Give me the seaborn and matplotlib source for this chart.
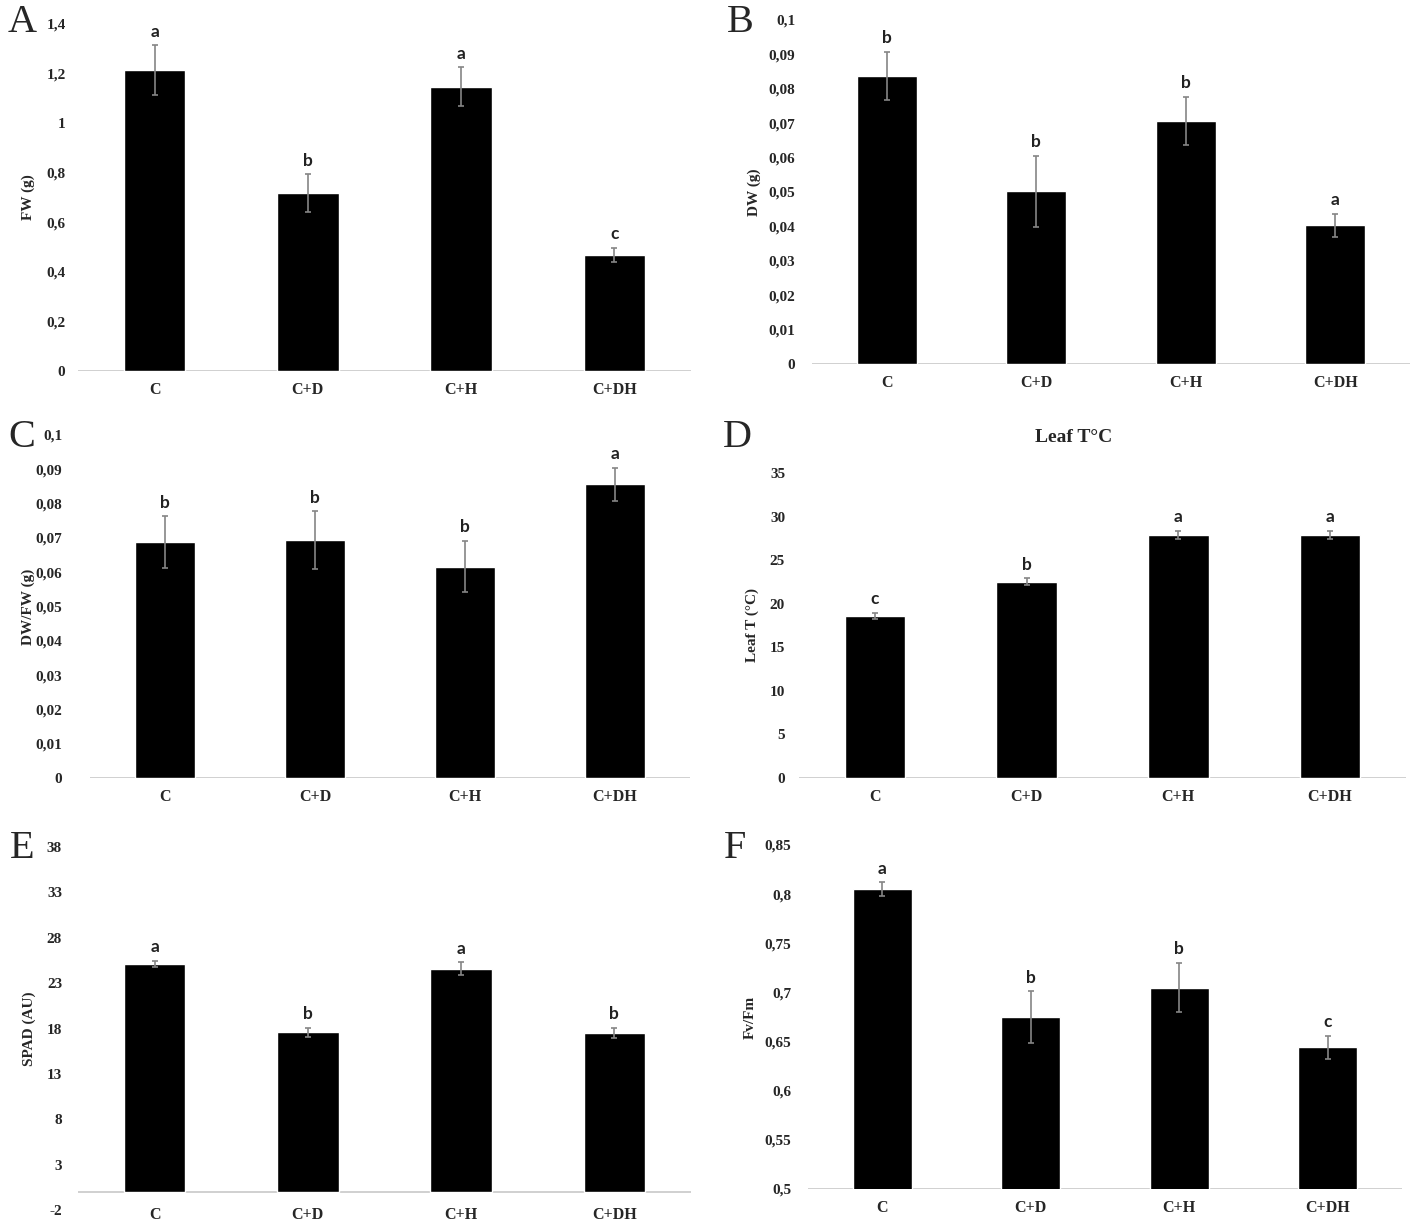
import numpy as np
import pandas as pd
import matplotlib
matplotlib.use("Agg")
import matplotlib.pyplot as plt
from matplotlib.ticker import FuncFormatter
import seaborn as sns

# treatments
categories = ["C", "C+D", "C+H", "C+DH"]

# A - fresh weight
fw = [1.215, 0.718, 1.147, 0.468]
fw_err = [0.10, 0.075, 0.078, 0.03]
fw_sig = ["a", "b", "a", "c"]

# B - dry weight
dw = [0.0837, 0.0502, 0.0707, 0.0403]
dw_err = [0.007, 0.0103, 0.007, 0.0034]
dw_sig = ["b", "b", "b", "a"]

# C - DW/FW
dwfw = [0.0688, 0.0693, 0.0616, 0.0856]
dwfw_err = [0.0075, 0.0085, 0.0075, 0.0049]
dwfw_sig = ["b", "b", "b", "a"]

# D - leaf temperature
leaf_t = [18.6, 22.5, 27.9, 27.9]
leaf_t_err = [0.35, 0.4, 0.45, 0.5]
leaf_t_sig = ["c", "b", "a", "a"]

# E - SPAD
spad = [25.1, 17.6, 24.6, 17.5]
spad_err = [0.35, 0.5, 0.7, 0.6]
spad_sig = ["a", "b", "a", "b"]

# F - Fv/Fm
fvfm = [0.805, 0.675, 0.705, 0.644]
fvfm_err = [0.007, 0.026, 0.025, 0.012]
fvfm_sig = ["a", "b", "b", "c"]

sns.set_theme(style="white")
plt.rcParams['font.family'] = ['Liberation Serif', 'DejaVu Serif']

W, H = 1417, 1225
fig = plt.figure(figsize=(W / 100, H / 100), dpi=100)

def px_rect(left, right, top, bottom):
    return [left / W, 1 - bottom / H, (right - left) / W, (bottom - top) / H]

def comma(v, pos):
    return f"{round(v, 4):g}".replace(".", ",")

# panel layout: letter, rect, ylim, yticks, ylabel, ylabel x pixel, letter pos, tick pad
panels = [
    ("A", fw, fw_err, fw_sig, px_rect(78, 691, 24, 371), (0, 1.4),
     np.round(np.arange(0, 1.41, 0.2), 2), "FW (g)", 28, (22, 23), 9, 0),
    ("B", dw, dw_err, dw_sig, px_rect(812, 1410, 20, 364), (0, 0.1),
     np.round(np.arange(0, 0.101, 0.01), 3), "DW (g)", 754, (740, 22), 12, 0),
    ("C", dwfw, dwfw_err, dwfw_sig, px_rect(90, 690, 435, 778), (0, 0.1),
     np.round(np.arange(0, 0.101, 0.01), 3), "DW/FW (g)", 28, (22, 437), 20, 0),
    ("D", leaf_t, leaf_t_err, leaf_t_sig, px_rect(799, 1406, 473, 778), (0, 35),
     np.arange(0, 36, 5), "Leaf T (°C)", 752, (737, 437), 10, 0),
    ("E", spad, spad_err, spad_sig, px_rect(78, 691, 847, 1210), (-2, 38),
     np.arange(-2, 39, 5), "SPAD (AU)", 29, (22, 848), 11.5, 0),
    ("F", fvfm, fvfm_err, fvfm_sig, px_rect(808, 1402, 845, 1189), (0.5, 0.85),
     np.round(np.arange(0.5, 0.851, 0.05), 2), "Fv/Fm", 750, (735, 848), 12, 0.5),
]

for (letter, vals, errs, sig, rect, ylim, yticks, ylabel, ylab_x, let_pos,
     ypad, base) in panels:
    ax = fig.add_axes(rect)
    df = pd.DataFrame({"treatment": categories, "value": vals})
    sns.barplot(data=df, x="treatment", y="value", color="black", saturation=1,
                width=0.4, errorbar=None, ax=ax)
    ax.errorbar(range(len(vals)), vals, yerr=errs, fmt="none", ecolor="#858585",
                elinewidth=1.2, capsize=2.5, capthick=1.2, zorder=5)
    for i, (v, e, s) in enumerate(zip(vals, errs, sig)):
        ax.annotate(s, (i, v + e), xytext=(0, 4), textcoords="offset points",
                    ha="center", va="bottom", fontsize=12.5, fontweight="bold",
                    family=["Lato", "DejaVu Sans"], color="#222222")
    ax.set_xlim(-0.5, len(vals) - 0.5)
    ax.set_ylim(*ylim)
    ax.set_yticks(yticks)
    ax.yaxis.set_major_formatter(FuncFormatter(comma))
    ax.set_xlabel("")
    ax.set_ylabel("")
    for sp in ["top", "right", "left", "bottom"]:
        ax.spines[sp].set_visible(False)
    ax.axhline(0 if letter != "F" else base, color="#d0d0d0", lw=1.4, zorder=0)
    ax.tick_params(axis="y", length=0, pad=ypad, labelsize=11)
    xpad = 8 if letter != "E" else -2
    ax.tick_params(axis="x", length=0, pad=xpad, labelsize=11.5)
    for t in ax.get_xticklabels() + ax.get_yticklabels():
        t.set_fontweight("bold")
    ax.grid(False)
    # y axis title
    x0, y0, w0, h0 = rect
    yc = y0 + h0 / 2
    fig.text(ylab_x / W, yc, ylabel, rotation=90, ha="center", va="center",
             fontsize=11, fontweight="bold")
    # panel letter
    fig.text(let_pos[0] / W, 1 - let_pos[1] / H, letter, ha="center", va="center",
             fontsize=29)

# title of panel D
fig.text(1074 / W, 1 - 437 / H, "Leaf T°C", ha="center", va="center",
         fontsize=14, fontweight="bold")

fig.savefig("out.png", dpi=100, facecolor="white")
